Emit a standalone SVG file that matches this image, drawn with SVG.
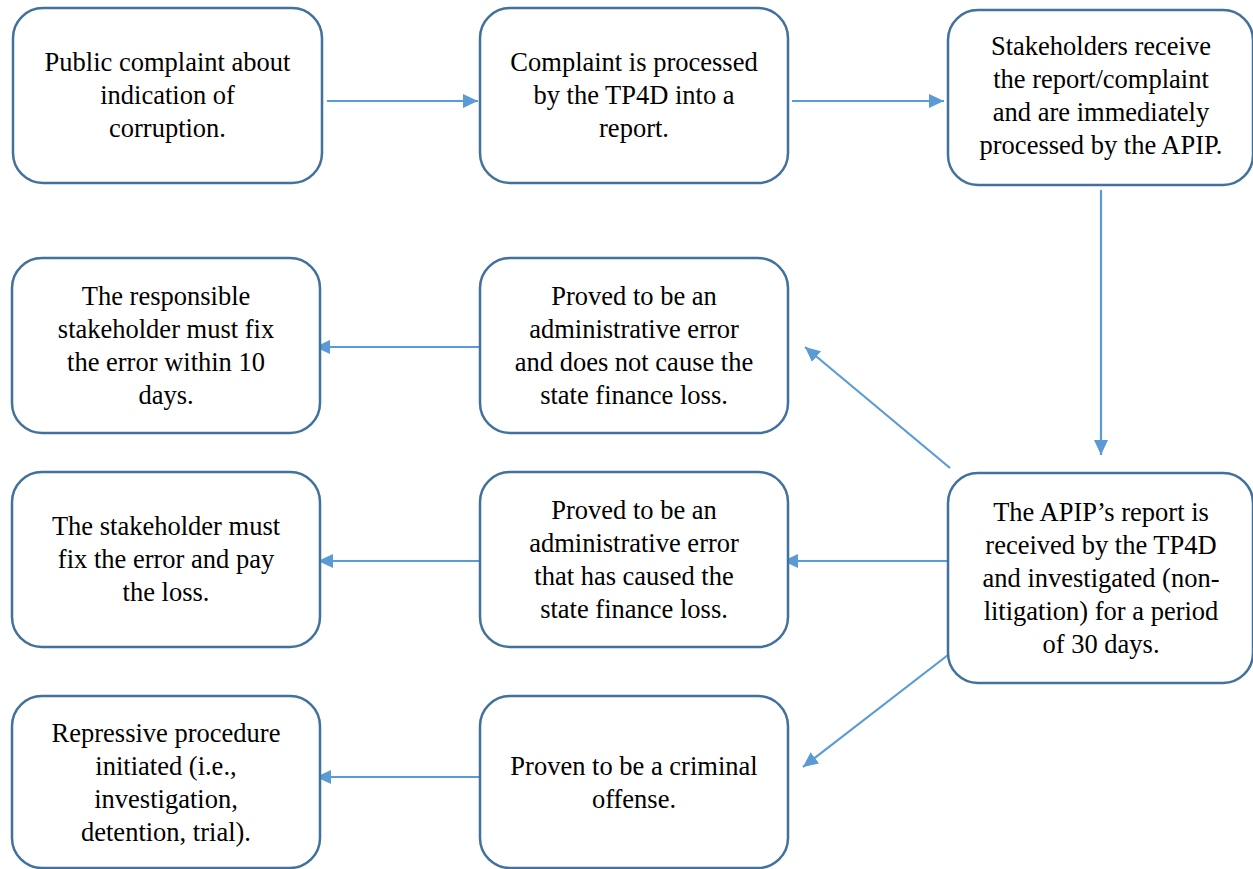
<svg xmlns="http://www.w3.org/2000/svg" width="1253" height="869" viewBox="0 0 1253 869">
<defs>
<style>
.n rect{fill:#fff;stroke:#41719C;stroke-width:2.5}
.n text{font-family:"Liberation Serif","Times New Roman",serif;font-size:26.5px;fill:#000;text-anchor:middle}
.c line{stroke:#5B9BD5;stroke-width:2.2;marker-end:url(#ah)}
</style>
<marker id="ah" markerUnits="userSpaceOnUse" markerWidth="16" markerHeight="15" refX="15" refY="7" orient="auto">
<path d="M0,0 L15,7 L0,14 z" fill="#5B9BD5"/>
</marker>
</defs>
<rect width="1253" height="869" fill="#fff"/>
<g id="connectors" class="c">
<line x1="327" y1="101" x2="478" y2="101"/>
<line x1="792" y1="101" x2="944" y2="101"/>
<line x1="1101" y1="190" x2="1101" y2="455"/>
<line x1="950" y1="468" x2="805" y2="347"/>
<line x1="952" y1="561" x2="783" y2="561"/>
<line x1="948" y1="655" x2="803" y2="767"/>
<line x1="483" y1="347" x2="315" y2="347"/>
<line x1="488" y1="561" x2="318" y2="561"/>
<line x1="484" y1="777" x2="316" y2="777"/>
</g>
<g id="n1" class="n">
<rect x="13" y="8" width="309" height="175" rx="30"/>
<text x="167.5" y="71">Public complaint about</text>
<text x="167.5" y="104">indication of</text>
<text x="167.5" y="137">corruption.</text>
</g>
<g id="n2" class="n">
<rect x="480" y="8" width="308" height="175" rx="30"/>
<text x="634" y="71">Complaint is processed</text>
<text x="634" y="104">by the TP4D into a</text>
<text x="634" y="137">report.</text>
</g>
<g id="n3" class="n">
<rect x="948" y="10" width="305" height="175" rx="30"/>
<text x="1101" y="55">Stakeholders receive</text>
<text x="1101" y="88">the report/complaint</text>
<text x="1101" y="121">and are immediately</text>
<text x="1101" y="154">processed by the APIP.</text>
</g>
<g id="n4" class="n">
<rect x="948" y="473" width="305" height="210" rx="30"/>
<text x="1101" y="521">The APIP’s report is</text>
<text x="1101" y="554">received by the TP4D</text>
<text x="1101" y="587">and investigated (non-</text>
<text x="1101" y="620">litigation) for a period</text>
<text x="1101" y="653">of 30 days.</text>
</g>
<g id="n5" class="n">
<rect x="480" y="258" width="308" height="175" rx="30"/>
<text x="634" y="305">Proved to be an</text>
<text x="634" y="338">administrative error</text>
<text x="634" y="371">and does not cause the</text>
<text x="634" y="404">state finance loss.</text>
</g>
<g id="n6" class="n">
<rect x="12" y="258" width="308" height="175" rx="30"/>
<text x="166" y="305">The responsible</text>
<text x="166" y="338">stakeholder must fix</text>
<text x="166" y="371">the error within 10</text>
<text x="166" y="404">days.</text>
</g>
<g id="n7" class="n">
<rect x="480" y="472" width="308" height="175" rx="30"/>
<text x="634" y="519">Proved to be an</text>
<text x="634" y="552">administrative error</text>
<text x="634" y="585">that has caused the</text>
<text x="634" y="618">state finance loss.</text>
</g>
<g id="n8" class="n">
<rect x="12" y="472" width="308" height="175" rx="30"/>
<text x="166" y="535">The stakeholder must</text>
<text x="166" y="568">fix the error and pay</text>
<text x="166" y="601">the loss.</text>
</g>
<g id="n9" class="n">
<rect x="480" y="696" width="308" height="172" rx="30"/>
<text x="634" y="775">Proven to be a criminal</text>
<text x="634" y="808">offense.</text>
</g>
<g id="n10" class="n">
<rect x="12" y="696" width="308" height="172" rx="30"/>
<text x="166" y="742">Repressive procedure</text>
<text x="166" y="775">initiated (i.e.,</text>
<text x="166" y="808">investigation,</text>
<text x="166" y="841">detention, trial).</text>
</g>
</svg>
